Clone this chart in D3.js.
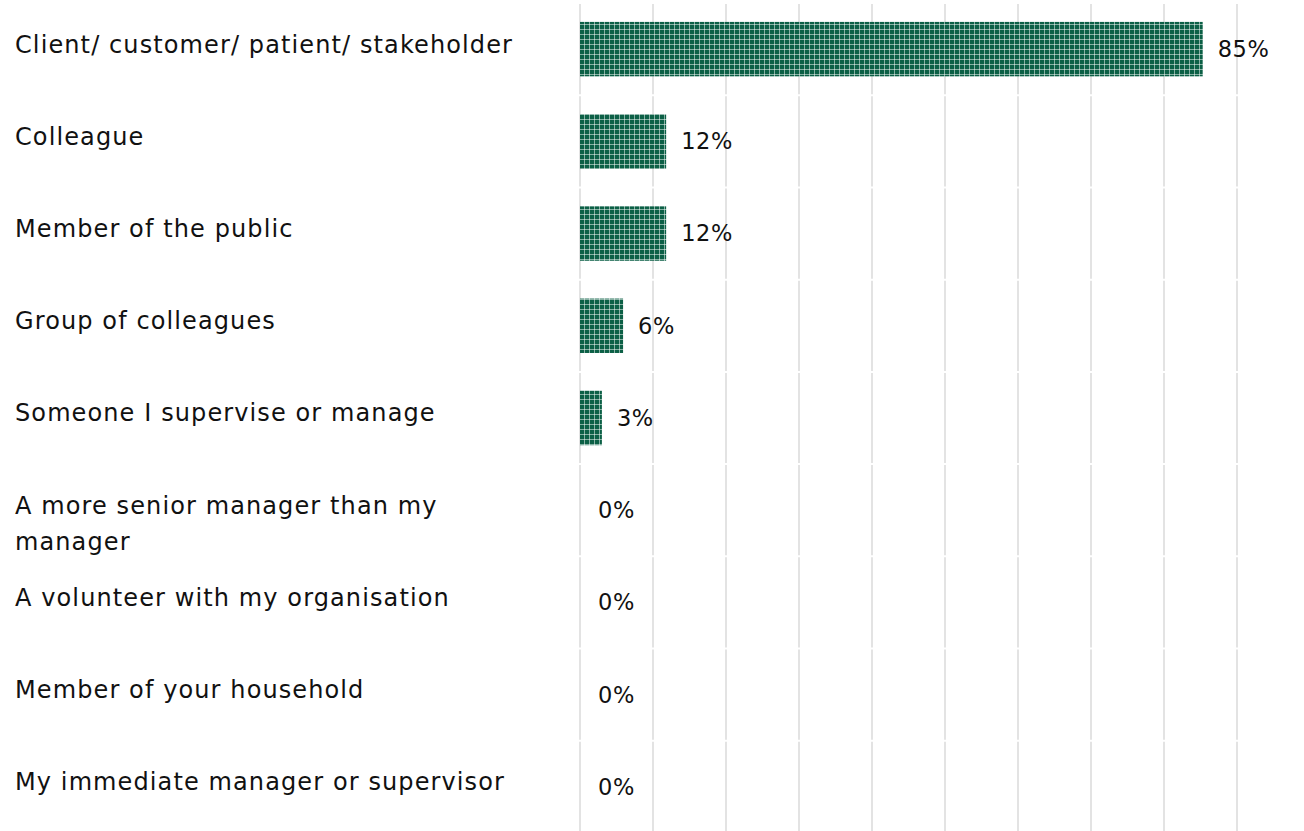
<!DOCTYPE html>
<html><head><meta charset="utf-8">
<script src="https://cdn.jsdelivr.net/npm/d3@7"></script>
<style>body{margin:0;background:#fff;}svg{display:block;}</style>
</head><body>
<svg id="chart" width="1304" height="831"></svg>
<script>
const categories = ["Client/ customer/ patient/ stakeholder","Colleague","Member of the public","Group of colleagues","Someone I supervise or manage","A more senior manager than my manager","A volunteer with my organisation","Member of your household","My immediate manager or supervisor"];
const values = [85.3, 11.8, 11.8, 5.9, 3, 0, 0, 0, 0];
const valueLabels = ["85%","12%","12%","6%","3%","0%","0%","0%","0%"];
const gridTicks = [0,10,20,30,40,50,60,70,80,90];

const svg = d3.select("#chart");
const FONT = "'DejaVu Sans', sans-serif";
const x = d3.scaleLinear().domain([0,90]).range([580,1237]);
const y = d3.scaleBand().domain(categories).range([3,833]).paddingInner(0.41).paddingOuter(0.205);
const step = y.step();

// pattern
const defs = svg.append("defs");
const pat = defs.append("pattern").attr("id","grid").attr("patternUnits","userSpaceOnUse")
  .attr("width",5).attr("height",5).attr("x",580).attr("y",0);
pat.append("rect").attr("width",5).attr("height",5).attr("fill","#0c6046");
pat.append("path").attr("d","M4.5,0V5M0,4.5H5").attr("stroke","rgba(255,255,255,0.5)").attr("stroke-width",1);

// gridlines per row, with small gaps
categories.forEach(c=>{
  const top = y(c) - (step - y.bandwidth())/2;
  svg.append("g").selectAll("line").data(gridTicks).join("line")
    .attr("x1",d=>x(d)).attr("x2",d=>x(d))
    .attr("y1",top+1).attr("y2",top+step-1)
    .attr("stroke","#e3e3e3").attr("stroke-width",2);
});

// bars
svg.append("g").selectAll("rect").data(values).join("rect")
  .attr("x",x(0)).attr("y",(d,i)=>y(categories[i]))
  .attr("width",d=>x(d)-x(0)).attr("height",y.bandwidth())
  .attr("fill","url(#grid)");

// value labels
svg.append("g").selectAll("text").data(values).join("text")
  .attr("x",d=>x(d)+ (d===0?18:15)).attr("y",(d,i)=>y(categories[i])+y.bandwidth()/2)
  .attr("dy","0.35em").attr("font-family",FONT).attr("font-size",22.5).attr("letter-spacing",0.6).attr("fill","#111")
  .text((d,i)=>valueLabels[i]);

// category labels with wrapping; letter-spacing tuned so the longest single-line label spans ~498px
const LFS = 24;
const probe = svg.append("text").attr("font-family",FONT).attr("font-size",LFS).text(categories[0]);
const w0 = probe.node().getComputedTextLength();
probe.remove();
const ls = Math.max(0,(498 - w0)/categories[0].length);
const maxW = 510;
categories.forEach((c,i)=>{
  const t = svg.append("text").attr("x",15).attr("font-family",FONT).attr("font-size",LFS)
    .attr("letter-spacing",ls).attr("fill","#111");
  const cy = y(c)+y.bandwidth()/2 - 5;
  const words = c.split(" ");
  let lines=[], line=[];
  const tmp = t.append("tspan");
  words.forEach(w=>{
    line.push(w); tmp.text(line.join(" "));
    if (tmp.node().getComputedTextLength()>maxW && line.length>1){ line.pop(); lines.push(line.join(" ")); line=[w]; }
  });
  lines.push(line.join(" "));
  tmp.remove();
  lines.forEach((l,k)=>t.append("tspan").attr("x",15).attr("y",cy+k*36).attr("dy","0.35em").text(l));
});
</script>
</body></html>
